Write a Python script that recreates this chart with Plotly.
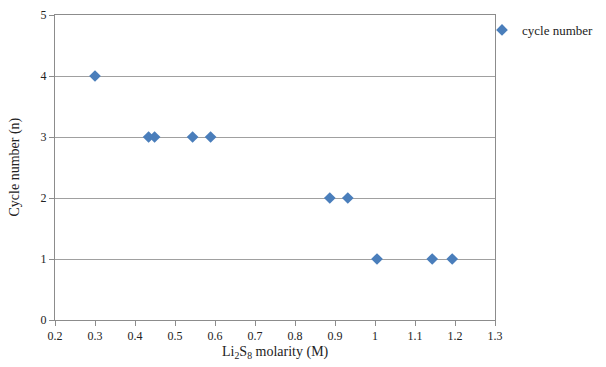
import plotly.graph_objects as go

molarity = [0.30, 0.434, 0.449, 0.544, 0.589, 0.887, 0.932, 1.005, 1.143, 1.193]
cycles = [4, 3, 3, 3, 3, 2, 2, 1, 1, 1]
x_ticks = [0.2, 0.3, 0.4, 0.5, 0.6, 0.7, 0.8, 0.9, 1.0, 1.1, 1.2, 1.3]
x_labels = ["0.2", "0.3", "0.4", "0.5", "0.6", "0.7", "0.8", "0.9", "1", "1.1", "1.2", "1.3"]
y_ticks = [0, 1, 2, 3, 4, 5]

font = "Liberation Serif"
# the page body has an 8px margin, so the figure is shrunk by that much
W, H = 598, 359
L, R, T, B = 47, 111, 7, 47
PW, PH = W - L - R, H - T - B

fig = go.Figure()
fig.add_trace(go.Scatter(
    x=molarity, y=cycles, mode="markers", name="cycle number",
    marker=dict(symbol="diamond", size=9, color="#4a7ebb"),
))

fig.update_layout(
    width=W, height=H,
    margin=dict(l=L, r=R, t=T, b=B, autoexpand=False),
    paper_bgcolor="white", plot_bgcolor="white",
    font=dict(family=font, size=12, color="#222"),
    showlegend=True,
    legend=dict(xref="container", yref="container",
                x=474 / W, y=1 - 7 / H, xanchor="left", yanchor="top",
                font=dict(family=font, size=13, color="#222"),
                bgcolor="rgba(0,0,0,0)", itemwidth=30),
    xaxis=dict(range=[0.2, 1.3], tickvals=x_ticks, ticktext=x_labels,
               showgrid=False, zeroline=False, automargin=False,
               showline=True, linecolor="#8c8c8c", linewidth=1, mirror=True,
               ticks="outside", ticklen=5, tickcolor="#8c8c8c",
               tickfont=dict(family=font, size=12, color="#222")),
    yaxis=dict(range=[0, 5], tickvals=y_ticks,
               showgrid=True, gridcolor="#a0a0a0", gridwidth=1, zeroline=False, automargin=False,
               showline=True, linecolor="#8c8c8c", linewidth=1, mirror=True,
               ticks="outside", ticklen=5, tickcolor="#8c8c8c",
               tickfont=dict(family=font, size=12, color="#222")),
    annotations=[
        dict(text="Li<sub>2</sub>S<sub>8</sub> molarity (M)", xref="paper", yref="paper",
             x=0.5, y=-(344 - (H - B)) / PH, xanchor="center", yanchor="middle",
             showarrow=False, font=dict(family=font, size=14, color="#222")),
        dict(text="Cycle number (n)", xref="paper", yref="paper",
             x=-(L - 6) / PW, y=0.5, xanchor="center", yanchor="middle",
             textangle=-90, showarrow=False, font=dict(family=font, size=14, color="#222")),
    ],
)

fig.write_html("out.html", config={"displayModeBar": False})
